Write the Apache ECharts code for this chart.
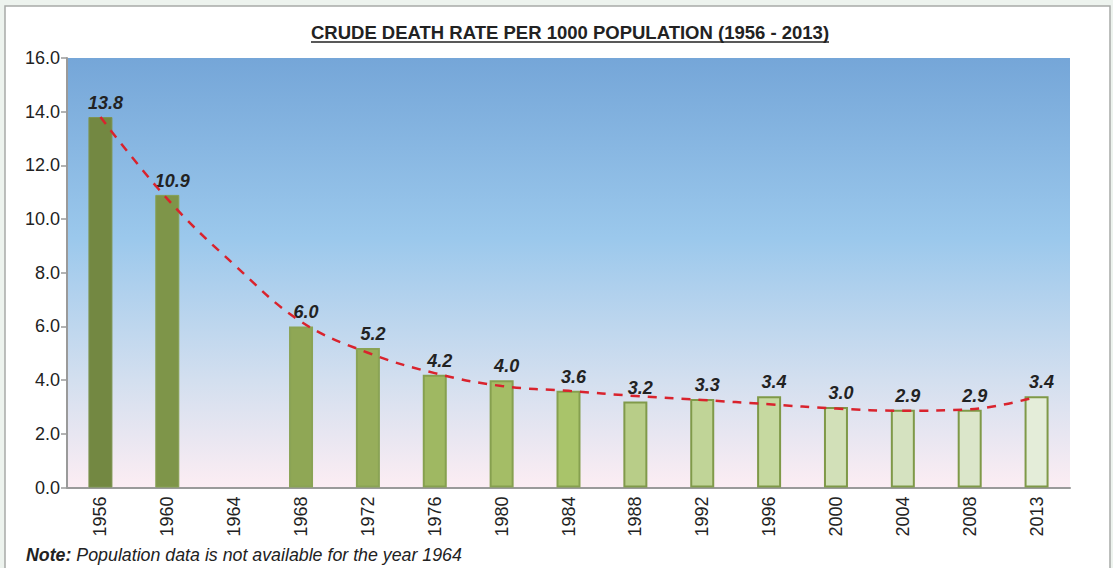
<!DOCTYPE html>
<html>
<head>
<meta charset="utf-8">
<script src="https://cdn.jsdelivr.net/npm/echarts@6/dist/echarts.min.js"></script>
<style>
html,body{margin:0;padding:0;background:#edf3ee;}
#chart{width:1113px;height:568px;}
</style>
</head>
<body>
<div id="chart"></div>
<script>
// ---- data ----
const years = ['1956','1960','1964','1968','1972','1976','1980','1984','1988','1992','1996','2000','2004','2008','2013'];
const deathRate = [13.8, 10.9, null, 6.0, 5.2, 4.2, 4.0, 3.6, 3.2, 3.3, 3.4, 3.0, 2.9, 2.9, 3.4];
const trendValues = [13.8, 10.75, 8.3, 6.18, 5.02, 4.26, 3.78, 3.6, 3.41, 3.26, 3.1, 2.94, 2.86, 2.91, 3.38];
const yTicks = ['0.0','2.0','4.0','6.0','8.0','10.0','12.0','14.0','16.0'];
const titleText = 'CRUDE DEATH RATE PER 1000 POPULATION (1956 - 2013)';
const noteLabel = 'Note:';
const noteText = ' Population data is not available for the year 1964';

// ---- styles ----
const FONT = '"Liberation Sans", Arial, sans-serif';
const barColors = ['#738842','#7e9549','#8a9f52','#8fa755','#97ae5b','#9fb862','#a4bd66','#a9c46a','#b8cd88','#c0d497','#c6d9a0','#d2e0b8','#d5e2c0','#dbe6ca','#e4edd9'];
const barBorders = ['#7d9450','#86a052','#86a052','#8aa355','#8aa355','#86a04f','#86a04f','#86a04f','#809a4a','#809a4a','#7f9948','#7f9948','#7f9948','#7f9948','#7f9948'];

const chart = echarts.init(document.getElementById('chart'), null, {renderer: 'svg'});

const option = {
  backgroundColor: 'transparent',
  animation: false,
  graphic: [
    {type: 'rect', shape: {x: 5, y: 6, width: 1105, height: 570}, style: {fill: '#ffffff', stroke: '#a8aaa8', lineWidth: 1.5}, z: -10},
    {type: 'text', x: 570, y: 32, style: {text: titleText, font: 'bold 18.5px ' + FONT, fill: '#222', align: 'center', verticalAlign: 'middle'}, z: 10},
    {type: 'line', shape: {x1: 311, y1: 42, x2: 829, y2: 42}, style: {stroke: '#222', lineWidth: 1.3}, z: 10},
    {type: 'text', x: 26, y: 555, style: {
      text: '{b|' + noteLabel + '}{i|' + noteText + '}',
      verticalAlign: 'middle',
      rich: {
        b: {font: 'italic bold 17.8px ' + FONT, fill: '#222'},
        i: {font: 'italic 17.8px ' + FONT, fill: '#222'}
      }
    }, z: 10}
  ],
  grid: {
    left: 67, right: 43, top: 58, bottom: 80.5,
    show: true,
    borderWidth: 0,
    backgroundColor: new echarts.graphic.LinearGradient(0, 0, 0, 1, [
      {offset: 0, color: '#75a6d8'},
      {offset: 0.42, color: '#9bc8ec'},
      {offset: 0.75, color: '#d3dfef'},
      {offset: 1, color: '#fcedf3'}
    ])
  },
  xAxis: {
    type: 'category',
    data: years,
    boundaryGap: true,
    axisLine: {lineStyle: {color: '#9a9a9a', width: 2}},
    axisTick: {alignWithLabel: true, length: 5, lineStyle: {color: '#9a9a9a', width: 1.5}},
    axisLabel: {rotate: 90, fontSize: 18, color: '#222', margin: 9, fontFamily: FONT}
  },
  yAxis: {
    type: 'value',
    min: 0, max: 16, interval: 2,
    splitLine: {show: false},
    axisLine: {show: true, lineStyle: {color: '#9a9a9a', width: 2}},
    axisTick: {show: true, length: 6, lineStyle: {color: '#9a9a9a', width: 1.5}},
    axisLabel: {fontSize: 18, color: '#222', margin: 7, fontFamily: FONT,
      formatter: function (v) { return yTicks[Math.round(v / 2)]; }}
  },
  series: [
    {
      type: 'bar',
      barWidth: 24,
      data: deathRate.map(function (v, i) {
        return {value: v, itemStyle: {color: barColors[i], borderColor: barBorders[i], borderWidth: i < 2 ? 1 : 2}};
      }),
      label: {
        show: true, position: 'top', distance: 5, offset: [5, 0],
        fontSize: 18, fontWeight: 'bold', fontStyle: 'italic', color: '#222',
        fontFamily: FONT,
        formatter: function (p) { return p.value == null ? '' : p.value.toFixed(1); }
      },
      z: 2
    },
    {
      type: 'line',
      data: trendValues,
      smooth: 0.4,
      symbol: 'none',
      lineStyle: {color: '#d9232d', width: 2.5, type: [9, 8]},
      z: 3
    }
  ]
};
chart.setOption(option);
</script>
</body>
</html>
